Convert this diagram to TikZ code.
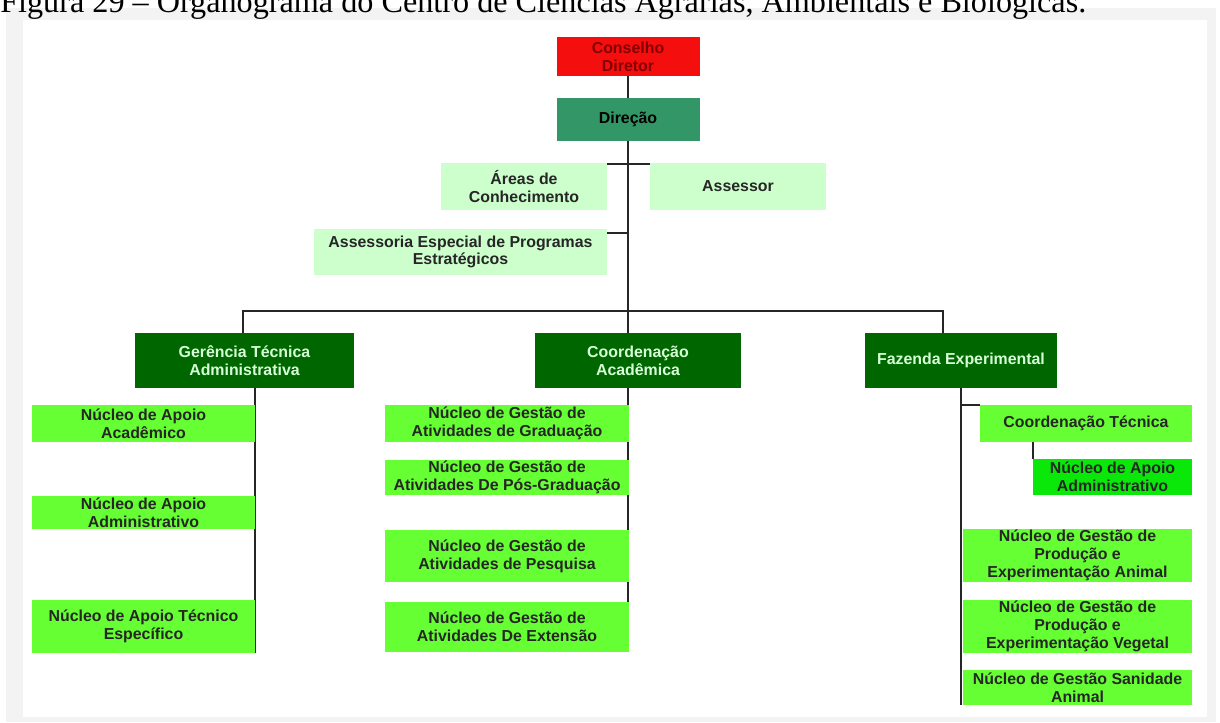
\documentclass[tikz,border=0pt]{standalone}
\usepackage{fontspec}
\setmainfont{Liberation Sans}
\newfontfamily\legenda[Ligatures=TeX]{Liberation Serif}
\usetikzlibrary{backgrounds}

\definecolor{conselho}{RGB}{245,14,14}
\definecolor{conselhotxt}{RGB}{130,0,0}
\definecolor{direcao}{RGB}{51,150,102}
\definecolor{verdeclaro}{RGB}{204,255,204}
\definecolor{verdeescuro}{RGB}{0,102,0}
\definecolor{verdetxt}{RGB}{215,255,215}
\definecolor{verdelima}{RGB}{102,255,51}
\definecolor{verdevivo}{RGB}{10,232,10}
\definecolor{moldura}{RGB}{243,243,243}

\begin{document}
\begin{tikzpicture}[x=0.025cm, y=-0.025cm,
    caixa/.style={inner sep=0pt, align=center,
      font=\fontsize{11.3}{12.6}\selectfont\bfseries},
    wh/.style 2 args={minimum width=#1*0.025cm, minimum height=#2*0.025cm},
    topo/.style={caixa, fill=conselho, text=conselhotxt},
    diretoria/.style={caixa, fill=direcao, text=black},
    assessoria/.style={caixa, fill=verdeclaro, text=black!85},
    chefia/.style={caixa, fill=verdeescuro, text=verdetxt},
    nucleo/.style={caixa, fill=verdelima, text=black!85},
    nucleovivo/.style={caixa, fill=verdevivo, text=black!85},
    link/.style={draw=black!85, line width=1.2pt}]
  \useasboundingbox (0,0) rectangle (1220,722);
  \clip (0,0) rectangle (1220,722);

  % moldura da figura
  \begin{scope}[on background layer]
    \fill[moldura] (6,8) rectangle (1216,722);
    \fill[white] (23,20) rectangle (1207,717);
  \end{scope}

  % legenda (cortada no topo)
  \node[anchor=base west, inner sep=0pt,
        font=\legenda\fontsize{22.9}{25}\selectfont] (legenda) at (0,13)
    {Figura 29 – Organograma do Centro de Ciências Agrárias, Ambientais e Biológicas.};

  % topo: conselho e direção
  \node[topo, wh={143}{39}] (consel) at (628,56.5) {Conselho\\Diretor};
  \node[diretoria, wh={143}{43}] (direcao) at (628,119.5) {Direção};

  % assessorias
  \node[assessoria, wh={166}{47}] (areas) at (524,186.5) {Áreas de\\Conhecimento};
  \node[assessoria, wh={176}{47}] (assessor) at (738,186.5) {Assessor};
  \node[assessoria, wh={293}{46}] (especial) at (460.5,252)
    {Assessoria Especial de Programas\\Estratégicos};

  % segundo nível
  \node[chefia, wh={219}{55}] (gerencia) at (244.5,360.5) {Gerência Técnica\\Administrativa};
  \node[chefia, wh={206}{55}] (coordac) at (638,360.5) {Coordenação\\Acadêmica};
  \node[chefia, wh={192}{55}] (fazenda) at (961,360.5) {Fazenda Experimental};

  % núcleos da gerência
  \node[nucleo, wh={223}{37}] (napacad) at (143.5,423.5) {Núcleo de Apoio\\Acadêmico};
  \node[nucleo, wh={223}{33}] (napadm) at (143.5,512.5) {Núcleo de Apoio\\Administrativo};
  \node[nucleo, wh={223}{53}] (naptec) at (143.5,626.5) {Núcleo de Apoio Técnico\\Específico};

  % núcleos da coordenação acadêmica
  \node[nucleo, wh={244}{37}] (ngrad) at (507,423.5) {Núcleo de Gestão de\\Atividades de Graduação};
  \node[nucleo, wh={244}{35}] (npos) at (507,477.5) {Núcleo de Gestão de\\Atividades De Pós-Graduação};
  \node[nucleo, wh={244}{52}] (npesq) at (507,556) {Núcleo de Gestão de\\Atividades de Pesquisa};
  \node[nucleo, wh={244}{50}] (next) at (507,627) {Núcleo de Gestão de\\Atividades De Extensão};

  % fazenda experimental
  \node[nucleo, wh={212}{37}] (coordtec) at (1086,423.5) {Coordenação Técnica};
  \node[nucleovivo, wh={159}{36}] (napadmf) at (1112.5,477) {Núcleo de Apoio\\Administrativo};
  \node[nucleo, wh={229}{53}] (nanimal) at (1077.5,555.5)
    {Núcleo de Gestão de\\Produção e\\Experimentação Animal};
  \node[nucleo, wh={229}{53}] (nvegetal) at (1077.5,626.5)
    {Núcleo de Gestão de\\Produção e\\Experimentação Vegetal};
  \node[nucleo, wh={229}{35}] (nsanid) at (1077.5,687.5) {Núcleo de Gestão Sanidade\\Animal};

  % ligações
  \coordinate (busL) at (243,311);
  \coordinate (busR) at (943,311);
  \begin{scope}[on background layer]
    \draw[link] (consel.south) -- (direcao.north);
    \draw[link] (direcao.south) -- (direcao.south |- next.south);
    \draw[link] ([yshift=-1pt]areas.north east) -- ([yshift=-1pt]assessor.north west);
    \draw[link] ([yshift=-3pt]especial.north east) -- ([yshift=-3pt]direcao.south |- especial.north east);
    \draw[link] (gerencia.north -| busL) -- (busL) -- (busR) -- (fazenda.north -| busR);
    \draw[link] (gerencia.south -| naptec.east) -- (naptec.south east);
    \draw[link] (fazenda.south) -- (fazenda.south |- nsanid.south);
    \draw[link] (fazenda.south |- coordtec.north) -- (coordtec.north west);
    \draw[link] (napadmf.north west) -- (napadmf.north west |- coordtec.south);
  \end{scope}
\end{tikzpicture}
\end{document}
